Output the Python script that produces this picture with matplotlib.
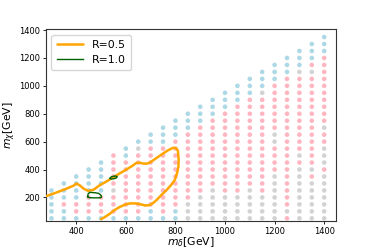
import numpy as np
import matplotlib
matplotlib.use("Agg")
import matplotlib.pyplot as plt

# grid of scanned mass points, one string per m_delta column (from m_chi=50 upward)
# b = blue, p = pink, g = grey
m_delta = list(range(300, 1450, 50))
point_classes = [
    "bbbbb",                                   # 300
    "bbpbbb",                                  # 350
    "bppbbbb",                                 # 400
    "bpppbbbb",                                # 450
    "bpppbbbbb",                               # 500
    "bpppgppppp",                              # 550
    "b" + "p" * 8 + "bb",                      # 600
    "b" + "p" * 9 + "gb",                      # 650
    "bb" + "p" * 9 + "bb",                     # 700
    "b" + "p" * 10 + "bbb",                    # 750
    "bb" + "p" * 10 + "bbb",                   # 800
    "gggp" + "p" * 9 + "bbb",                  # 850
    "gggg" + "p" * 10 + "bbb",                 # 900
    "ggggg" + "p" * 10 + "bbb",                # 950
    "gggg" + "p" * 12 + "bbb",                 # 1000
    "gggg" + "p" * 13 + "bbb",                 # 1050
    "ggggg" + "p" * 13 + "bbb",                # 1100
    "gggg" + "p" * 14 + "g" + "bbb",           # 1150
    "g" * 7 + "pppp" + "gg" + "p" * 7 + "bbb", # 1200
    "pg" + "p" * 19 + "bbb",                   # 1250
    "g" * 8 + "pg" + "p" * 11 + "g" + "bbb",   # 1300
    "g" * 6 + "pg" + "p" * 13 + "gp" + "bbb",  # 1350
    "g" * 7 + "pggg" + "ppg" + "p" * 10 + "bbb",  # 1400
]
class_colors = {"b": "#add8e6", "p": "#ffb6c1", "g": "#d3d3d3"}

# R=0.5 contour (open curve)
r05_x = [278, 320, 360, 390, 401, 415, 430, 448, 470, 495, 520, 549, 575, 603, 625, 643,
         657, 670, 685, 697, 720, 751, 772, 791, 803, 810, 813, 812, 806, 797, 782, 764,
         745, 724, 710, 697, 678, 657, 637, 617, 597, 577, 557, 537, 518, 500]
r05_y = [209, 235, 262, 285, 300, 285, 262, 247, 255, 288, 312, 343, 372, 401, 425, 448,
         448, 443, 442, 450, 478, 516, 540, 556, 552, 535, 470, 419, 370, 324, 288, 252,
         220, 181, 160, 145, 142, 152, 157, 157, 148, 133, 112, 85, 62, 44]

# R=1.0 contours (closed loops)
r10a_x = [446, 448, 455, 465, 478, 490, 498, 502, 500, 490, 470, 452, 446]
r10a_y = [205, 226, 236, 235, 233, 229, 219, 207, 198, 197, 197, 198, 205]
r10b_x = [536, 540, 550, 560, 565, 562, 552, 542, 536]
r10b_y = [336, 346, 352, 353, 348, 340, 334, 332, 336]


def main():
    fig = plt.figure(figsize=(3.74, 2.49), dpi=100)
    ax = fig.add_axes([0.123, 0.112, 0.775, 0.770])

    xs, ys, cs = [], [], []
    for md, classes in zip(m_delta, point_classes):
        for i, c in enumerate(classes):
            xs.append(md)
            ys.append(50 + 50 * i)
            cs.append(class_colors[c])
    ax.scatter(xs, ys, c=cs, s=11, linewidths=0, zorder=1)

    ax.plot(r05_x, r05_y, color="orange", lw=1.8, label="R=0.5", zorder=3,
            solid_joinstyle="round", solid_capstyle="round")
    ax.plot(r10a_x, r10a_y, color="darkgreen", lw=1.0, label="R=1.0", zorder=4)
    ax.plot(r10b_x, r10b_y, color="darkgreen", lw=1.0, zorder=4)

    ax.set_xlim(278, 1447)
    ax.set_ylim(30, 1405)
    ax.set_xticks([400, 600, 800, 1000, 1200, 1400])
    ax.set_yticks([200, 400, 600, 800, 1000, 1200, 1400])
    ax.tick_params(labelsize=6, length=2.5, width=0.6, pad=1.5)
    for s in ax.spines.values():
        s.set_linewidth(0.8)
        s.set_color("#333333")

    ax.set_xlabel(r"$m_{\delta}$[GeV]", fontsize=7.8, labelpad=-0.5)
    ax.set_ylabel(r"$m_{\chi}$[GeV]", fontsize=7.8, labelpad=1)
    ax.legend(loc="upper left", fontsize=7.8, handlelength=2.4, borderpad=0.5,
              labelspacing=0.4, handletextpad=0.8, framealpha=0.8)

    fig.savefig("out.png", dpi=100)


if __name__ == "__main__":
    main()
